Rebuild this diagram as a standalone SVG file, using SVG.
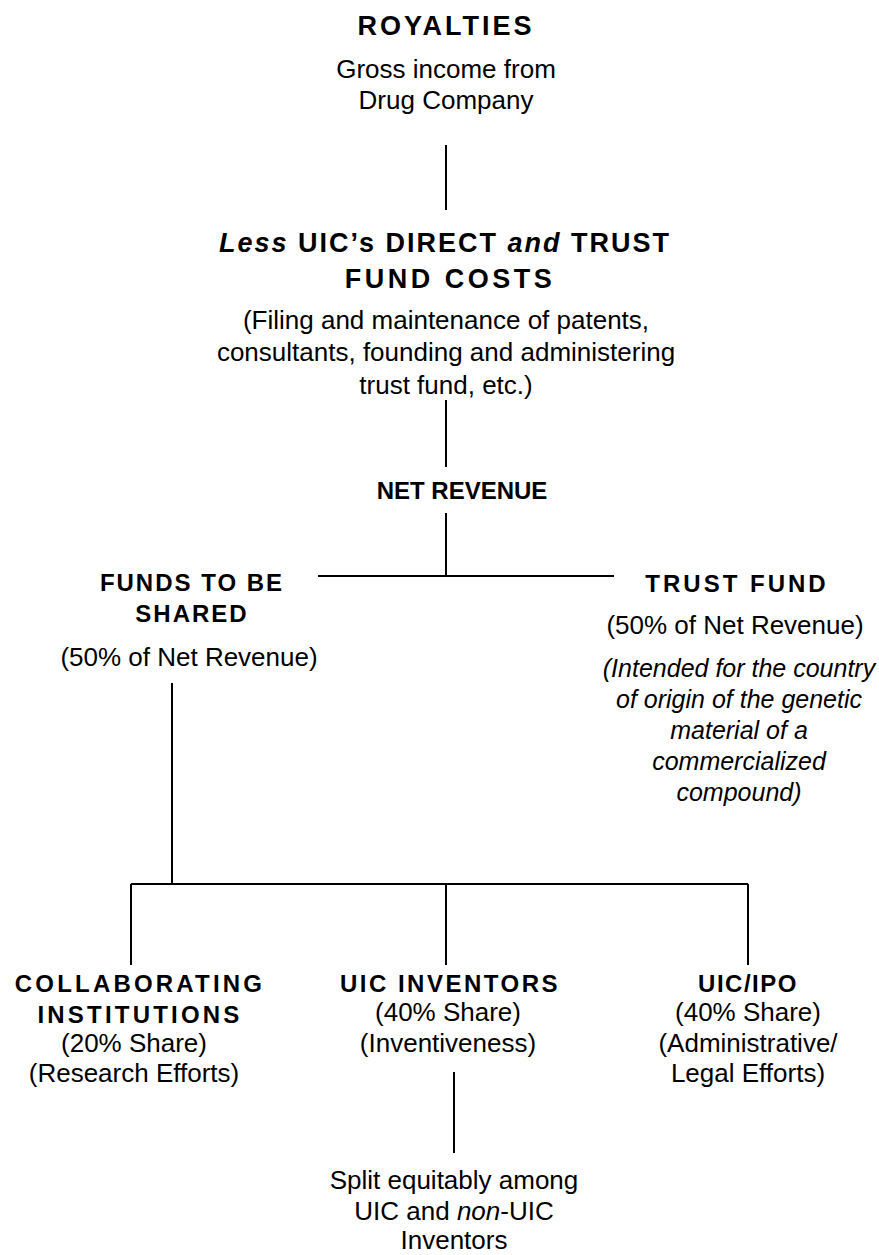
<svg xmlns="http://www.w3.org/2000/svg" width="879" height="1255" viewBox="0 0 879 1255">
<style>
text{font-family:"Liberation Sans",Arial,sans-serif;fill:#000;text-anchor:middle}
.h{font-weight:bold;font-size:24px;letter-spacing:1.5px}
.H{font-weight:bold;font-size:27px;letter-spacing:2px}
.r{font-size:26px}
.i{font-size:25px;font-style:italic}
.c line{stroke:#000;stroke-width:2}
</style>
<rect width="879" height="1255" fill="#fff"/>
<g class="c" id="connectors">
<line x1="446" y1="145" x2="446" y2="210"/>
<line x1="446" y1="400" x2="446" y2="467"/>
<line x1="446" y1="513" x2="446" y2="576"/>
<line x1="318" y1="576" x2="614" y2="576"/>
<line x1="172" y1="683" x2="172" y2="884"/>
<line x1="131" y1="884" x2="748" y2="884"/>
<line x1="131" y1="884" x2="131" y2="965"/>
<line x1="446" y1="884" x2="446" y2="965"/>
<line x1="748" y1="884" x2="748" y2="965"/>
<line x1="454" y1="1072" x2="454" y2="1153"/>
</g>
<g id="royalties">
<text class="H" x="446" y="35" style="letter-spacing:3px">ROYALTIES</text>
<text class="r" x="446" y="78">Gross income from</text>
<text class="r" x="446" y="109">Drug Company</text>
</g>
<g id="costs">
<text class="H" x="445" y="252"><tspan font-style="italic">Less</tspan> UIC’s DIRECT <tspan font-style="italic">and</tspan> TRUST</text>
<text class="H" x="450" y="288" style="letter-spacing:3.5px">FUND COSTS</text>
<text class="r" x="446" y="329">(Filing and maintenance of patents,</text>
<text class="r" x="446" y="361">consultants, founding and administering</text>
<text class="r" x="446" y="394">trust fund, etc.)</text>
</g>
<g id="net-revenue">
<text class="h" x="462" y="499" style="letter-spacing:0">NET REVENUE</text>
</g>
<g id="funds-shared">
<text class="h" x="192" y="591" style="letter-spacing:2px">FUNDS TO BE</text>
<text class="h" x="192" y="622" style="letter-spacing:2px">SHARED</text>
<text class="r" x="189" y="666">(50% of Net Revenue)</text>
</g>
<g id="trust-fund">
<text class="h" x="737" y="592" style="letter-spacing:3px">TRUST FUND</text>
<text class="r" x="735" y="634">(50% of Net Revenue)</text>
<text class="i" x="739" y="677">(Intended for the country</text>
<text class="i" x="739" y="708">of origin of the genetic</text>
<text class="i" x="739" y="739">material of a</text>
<text class="i" x="739" y="770">commercialized</text>
<text class="i" x="739" y="801">compound)</text>
</g>
<g id="collaborating">
<text class="h" x="140" y="992" style="letter-spacing:3.2px">COLLABORATING</text>
<text class="h" x="140" y="1023" style="letter-spacing:3.2px">INSTITUTIONS</text>
<text class="r" x="134" y="1052">(20% Share)</text>
<text class="r" x="134" y="1082">(Research Efforts)</text>
</g>
<g id="uic-inventors">
<text class="h" x="450" y="992" style="letter-spacing:2.5px">UIC INVENTORS</text>
<text class="r" x="448" y="1021">(40% Share)</text>
<text class="r" x="448" y="1052">(Inventiveness)</text>
</g>
<g id="uic-ipo">
<text class="h" x="748" y="992">UIC/IPO</text>
<text class="r" x="748" y="1021">(40% Share)</text>
<text class="r" x="748" y="1052">(Administrative/</text>
<text class="r" x="748" y="1082">Legal Efforts)</text>
</g>
<g id="split">
<text class="r" x="454" y="1189">Split equitably among</text>
<text class="r" x="454" y="1220">UIC and <tspan font-style="italic">non</tspan>-UIC</text>
<text class="r" x="454" y="1249">Inventors</text>
</g>
</svg>
